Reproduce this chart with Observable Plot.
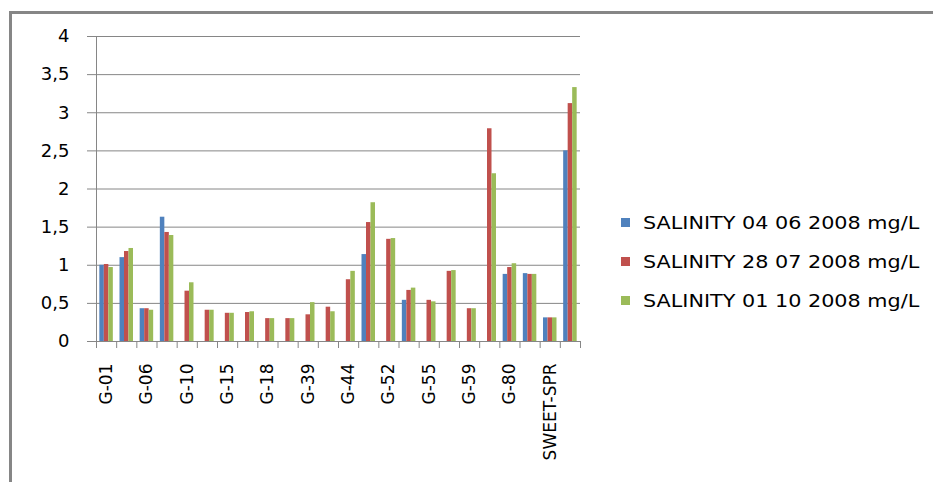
<!DOCTYPE html>
<html>
<head>
<meta charset="utf-8">
<script src="https://cdn.jsdelivr.net/npm/d3@7"></script>
<script src="https://cdn.jsdelivr.net/npm/@observablehq/plot@0.6"></script>
<style>
  body { margin: 0; background: #fff; }
  #chart { position: relative; width: 933px; height: 482px; overflow: hidden; font-family: "DejaVu Sans", sans-serif; }
  #chart svg { position: absolute; left: 0; top: 0; }
  #border { position: absolute; left: 9px; top: 11px; right: -10px; bottom: -10px;
            border-left: 3px solid #868686; border-top: 3px solid #868686; }
  #legend { position: absolute; left: 621px; top: 203px; }
  .row { display: flex; align-items: center; height: 39px; }
  .sw { width: 9px; height: 9px; margin-right: 13px; flex: none; }
  .lab { font-size: 17px; color: #000; white-space: nowrap; transform: scaleX(1.22); transform-origin: left center; }
</style>
</head>
<body>
<div id="chart"><div id="border"></div></div>
<script>
// Sampling sites (Excel only printed every other name on the axis)
const siteLabels = ["G-01", "", "G-06", "", "G-10", "", "G-15", "", "G-18", "", "G-39", "",
                    "G-44", "", "G-52", "", "G-55", "", "G-59", "", "G-80", "", "SWEET-SPR", ""];

const seriesNames = ["SALINITY 04 06 2008 mg/L", "SALINITY 28 07 2008 mg/L", "SALINITY 01 10 2008 mg/L"];
const seriesColors = ["#4F81BD", "#C0504D", "#9BBB59"];

// Salinity, mg/L (null = not sampled)
const june = [1.00, 1.10, 0.43, 1.63, null, null, null, null, null, null, null, null,
              null, 1.14, null, 0.54, null, null, null, null, 0.88, 0.89, 0.31, 2.50];
const july = [1.01, 1.18, 0.43, 1.43, 0.66, 0.41, 0.37, 0.38, 0.30, 0.30, 0.35, 0.45,
              0.81, 1.56, 1.34, 0.67, 0.54, 0.92, 0.43, 2.79, 0.97, 0.88, 0.31, 3.12];
const october = [0.97, 1.22, 0.41, 1.39, 0.77, 0.41, 0.37, 0.39, 0.30, 0.30, 0.51, 0.39,
                 0.92, 1.82, 1.35, 0.70, 0.52, 0.93, 0.43, 2.20, 1.02, 0.88, 0.31, 3.33];
const seriesValues = [june, july, october];

const yTicks = [0, 0.5, 1, 1.5, 2, 2.5, 3, 3.5, 4];

// Layout
const W = 933, H = 482, mL = 96, mR = 353, mT = 36, mB = 141;
const idx = siteLabels.map((_, i) => i);
const step = (W - mL - mR) / idx.length;
const barW = 4.5;
const pad = (step - barW * seriesValues.length) / 2;
const gridColor = "#868686";

const barMarks = seriesValues.map((vals, s) =>
  Plot.barY(idx.map(i => ({i, v: vals[i]})), {
    x: "i", y: "v", fill: seriesColors[s],
    insetLeft: pad + s * barW,
    insetRight: step - pad - (s + 1) * barW
  })
);

const plot = Plot.plot({
  width: W, height: H,
  marginLeft: mL, marginRight: mR, marginTop: mT, marginBottom: mB,
  style: {fontFamily: "DejaVu Sans, sans-serif", background: "transparent", overflow: "visible"},
  x: {type: "band", domain: idx, padding: 0, round: false, axis: null},
  y: {domain: [0, 4], axis: null},
  marks: [
    Plot.gridY(yTicks, {stroke: gridColor, strokeOpacity: 1, strokeWidth: 1}),
    Plot.ruleX([0], {dx: -step / 2, stroke: gridColor, strokeWidth: 1}),
    ...barMarks,
    // category boundary tick marks
    Plot.axisX({ticks: idx, tickSize: 7, dx: -step / 2, tickFormat: () => "", stroke: gridColor, label: null}),
    Plot.axisX({ticks: [idx[idx.length - 1]], tickSize: 7, dx: step / 2, tickFormat: () => "", stroke: gridColor, label: null}),
    // site names
    Plot.axisX({ticks: idx.filter(i => siteLabels[i]), tickSize: 0, tickPadding: 22, tickRotate: -90,
                tickFormat: i => siteLabels[i], fontSize: 17, fill: "#000", label: null}),
    Plot.axisY({ticks: yTicks, tickSize: 9, tickPadding: 18, stroke: gridColor, fill: "#000",
                tickFormat: d => String(d).replace(".", ","), fontSize: 18, label: null})
  ]
});

const chart = document.getElementById("chart");
chart.appendChild(plot);

const legend = document.createElement("div");
legend.id = "legend";
seriesNames.forEach((name, s) => {
  const row = document.createElement("div");
  row.className = "row";
  const sw = document.createElement("div");
  sw.className = "sw";
  sw.style.background = seriesColors[s];
  const lab = document.createElement("div");
  lab.className = "lab";
  lab.textContent = name;
  row.append(sw, lab);
  legend.appendChild(row);
});
chart.appendChild(legend);
</script>
</body>
</html>
